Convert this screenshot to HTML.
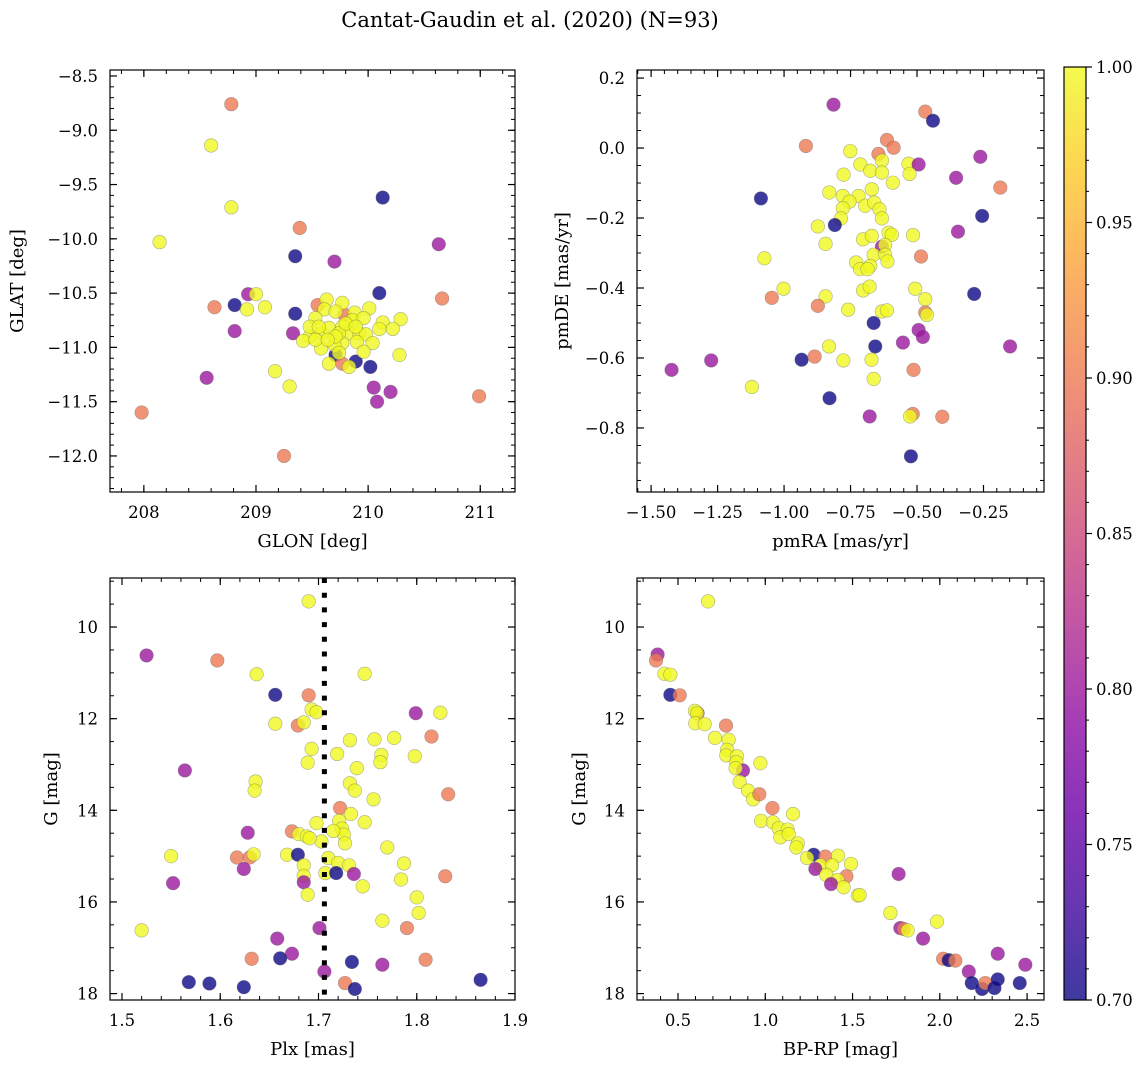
<!DOCTYPE html>
<html><head><meta charset="utf-8">
<style>
body{margin:0;background:#fff;}
svg{display:block;font-family:"DejaVu Serif","Liberation Serif",serif;}
</style></head>
<body>
<svg id="fig" width="1148" height="1067" viewBox="0 0 1148 1067" xmlns="http://www.w3.org/2000/svg">
<defs>
<linearGradient id="plasma" x1="0" y1="1" x2="0" y2="0">
<stop offset="0" stop-color="#0d0887"/><stop offset="0.1" stop-color="#41049d"/><stop offset="0.2" stop-color="#6a00a8"/><stop offset="0.3" stop-color="#8f0da4"/><stop offset="0.4" stop-color="#b12a90"/><stop offset="0.5" stop-color="#cc4778"/><stop offset="0.6" stop-color="#e16462"/><stop offset="0.7" stop-color="#f2844b"/><stop offset="0.8" stop-color="#fca636"/><stop offset="0.9" stop-color="#fcce25"/><stop offset="1" stop-color="#f0f921"/>
</linearGradient>
</defs>
<text x="530" y="27" font-size="21" text-anchor="middle">Cantat-Gaudin et al. (2020) (N=93)</text>
</svg>
<script>
// ---- Panel 1: GLON vs GLAT ----
const glon=[208.78,208.60,208.78,208.14,209.39,210.13,210.63,209.35,209.70,208.93,209.00,210.10,210.66,208.63,208.81,208.92,209.08,209.35,208.81,209.33,209.17,209.30,208.56,207.98,209.25,210.05,210.20,210.08,210.99,209.89,210.02,209.71,210.28,209.55,209.79,209.77,
209.63,209.77,210.01,209.88,209.61,209.71,209.53,209.86,209.96,210.13,210.29,210.22,210.10,209.48,209.42,209.59,209.65,209.77,209.83,209.92,209.98,210.04,209.90,209.77,209.70,209.58,209.74,209.65,209.83,209.96,209.48,209.56,209.74,209.80,209.89,209.71,209.53,209.64];
const glat=[-8.76,-9.14,-9.71,-10.03,-9.90,-9.62,-10.05,-10.16,-10.21,-10.51,-10.51,-10.50,-10.55,-10.63,-10.61,-10.65,-10.63,-10.69,-10.85,-10.87,-11.22,-11.36,-11.28,-11.60,-12.00,-11.37,-11.41,-11.50,-11.45,-11.13,-11.18,-11.07,-11.07,-10.61,-10.70,-11.15,
-10.56,-10.59,-10.64,-10.68,-10.65,-10.67,-10.73,-10.75,-10.73,-10.77,-10.74,-10.83,-10.83,-10.90,-10.94,-10.87,-10.82,-10.81,-10.87,-10.87,-10.88,-10.96,-10.95,-10.96,-10.98,-11.01,-11.05,-11.15,-11.18,-11.04,-10.81,-10.81,-10.87,-10.78,-10.81,-10.90,-10.93,-10.93];
const probA=[0.9,1,1,1,0.9,0.7,0.8,0.7,0.8,0.8,1,0.7,0.9,0.9,0.7,1,1,0.7,0.8,0.8,1,1,0.8,0.9,0.9,0.8,0.8,0.8,0.9,0.7,0.7,0.7,1,0.9,0.9,0.9,
1,1,1,1,1,1,1,1,1,1,1,1,1,1,1,1,1,1,1,1,1,1,1,1,1,1,1,1,1,1,1,1,1,1,1,1,1,1];
const p1XTicks=[208,209,210,211];
const p1YTicks=[-8.5,-9.0,-9.5,-10.0,-10.5,-11.0,-11.5,-12.0];
// ---- Panel 2: pmRA vs pmDE ----
const pmra=[-0.814,-0.469,-0.440,-0.918,-0.613,-0.588,-0.645,-0.751,-0.632,-0.532,-0.494,-0.713,-0.676,-0.632,-0.528,-0.776,-0.591,-0.262,-0.353,-0.187,-1.087,-0.830,-0.670,-0.779,-0.720,-0.754,-0.695,-0.661,-0.779,-0.641,-0.632,-0.786,-0.255,-0.809,-0.873,-0.346,-0.703,-0.670,-0.607,-0.595,-0.515,-0.632,-0.620,-0.844,-0.663,-0.620,-0.611,-0.485,-1.074,-0.729,-0.714,-0.676,-0.686,-0.703,-0.678,-1.002,-1.046,-0.844,-0.873,-0.507,-0.469,-0.285,-0.759,-0.632,-0.613,-0.469,-0.463,-0.663,-0.494,-0.478,-0.553,-0.150,-0.831,-0.657,-0.934,-0.885,-0.777,-0.671,-1.274,-1.423,-0.513,-1.121,-0.663,-0.829,-0.678,-0.516,-0.526,-0.405,-0.523];
const pmde=[0.124,0.104,0.078,0.006,0.023,0.001,-0.017,-0.009,-0.036,-0.045,-0.047,-0.047,-0.065,-0.070,-0.074,-0.076,-0.099,-0.025,-0.085,-0.113,-0.144,-0.127,-0.118,-0.137,-0.137,-0.153,-0.165,-0.156,-0.172,-0.175,-0.201,-0.201,-0.194,-0.220,-0.224,-0.239,-0.261,-0.251,-0.242,-0.248,-0.249,-0.282,-0.277,-0.274,-0.305,-0.305,-0.324,-0.310,-0.315,-0.327,-0.346,-0.337,-0.346,-0.407,-0.396,-0.402,-0.428,-0.424,-0.451,-0.402,-0.432,-0.417,-0.462,-0.467,-0.464,-0.470,-0.477,-0.500,-0.520,-0.540,-0.556,-0.567,-0.567,-0.567,-0.605,-0.596,-0.607,-0.605,-0.607,-0.634,-0.634,-0.683,-0.660,-0.715,-0.767,-0.760,-0.767,-0.768,-0.881];
const probB=[0.8,0.9,0.7,0.9,0.9,0.9,0.9,1,1,1,0.8,1,1,1,1,1,1,0.8,0.8,0.9,0.7,1,1,1,1,1,1,1,1,1,1,1,0.7,0.7,1,0.8,1,1,1,1,1,0.8,1,1,1,1,1,0.9,1,1,1,1,1,1,1,1,0.9,1,0.9,1,1,0.7,1,1,1,0.9,1,0.7,0.8,0.8,0.8,0.8,1,0.7,0.7,0.9,1,1,0.8,0.8,0.9,1,1,0.7,0.8,0.9,1,0.9,0.7];
const p2XTicks=[-1.50,-1.25,-1.00,-0.75,-0.50,-0.25];
const p2YTicks=[0.2,0.0,-0.2,-0.4,-0.6,-0.8];
// ---- Panel 3: Plx vs G ----
const plx=[1.690,1.525,1.597,1.637,1.747,1.656,1.690,1.693,1.698,1.799,1.824,1.656,1.679,1.685,1.815,1.732,1.757,1.777,1.693,1.719,1.764,1.763,1.798,1.689,1.739,1.564,1.636,1.635,1.732,1.737,1.832,1.756,1.722,1.733,1.747,1.698,1.721,1.724,1.726,1.727,1.715,1.703,1.673,1.680,1.688,1.691,1.628,1.770,1.550,1.617,1.630,1.634,1.668,1.679,1.710,1.685,1.720,1.731,1.787,1.624,1.685,1.707,1.718,1.736,1.685,1.552,1.784,1.745,1.829,1.689,1.800,1.802,1.520,1.765,1.790,1.701,1.658,1.673,1.661,1.632,1.734,1.765,1.809,1.706,1.568,1.589,1.624,1.727,1.737,1.865];
const gmagC=[9.44,10.62,10.73,11.03,11.02,11.48,11.49,11.80,11.86,11.88,11.87,12.11,12.15,12.08,12.39,12.47,12.45,12.42,12.66,12.77,12.79,12.95,12.82,12.96,13.08,13.13,13.37,13.57,13.41,13.57,13.65,13.76,13.95,14.08,14.26,14.28,14.23,14.40,14.53,14.72,14.45,14.68,14.46,14.52,14.57,14.61,14.49,14.81,15.00,15.03,15.03,14.96,14.97,14.97,15.04,15.20,15.15,15.20,15.16,15.28,15.43,15.37,15.37,15.39,15.57,15.59,15.51,15.66,15.44,15.84,15.90,16.24,16.62,16.41,16.57,16.57,16.80,17.13,17.23,17.24,17.31,17.37,17.26,17.52,17.75,17.78,17.86,17.77,17.90,17.70];
const probC=[1,0.8,0.9,1,1,0.7,0.9,1,1,0.8,1,1,0.9,1,0.9,1,1,1,1,1,1,1,1,1,1,0.8,1,1,1,1,0.9,1,0.9,1,1,1,1,1,1,1,1,1,0.9,1,1,1,0.8,1,1,0.9,0.9,1,1,0.7,1,1,1,1,1,0.8,1,1,0.7,0.8,0.8,0.8,1,1,0.9,1,1,1,1,1,0.9,0.8,0.8,0.8,0.7,0.9,0.7,0.8,0.9,0.8,0.7,0.7,0.7,0.9,0.7,0.7];
const p3XTicks=[1.5,1.6,1.7,1.8,1.9];
const gTicks=[10,12,14,16,18];
const plxCut=1.706;
// ---- Panel 4: BP-RP vs G ----
const bprp=[0.672,0.383,0.374,0.422,0.456,0.456,0.510,0.612,0.597,0.609,0.599,0.653,0.775,0.712,0.790,0.781,0.777,0.838,0.834,0.872,0.830,0.972,0.853,0.901,0.930,0.966,1.041,1.159,0.976,1.044,1.077,1.128,1.086,1.134,1.186,1.178,1.277,1.239,1.344,1.417,1.491,1.316,1.382,1.287,1.350,1.465,1.415,1.377,1.449,1.530,1.541,1.764,1.717,1.984,1.774,1.793,1.816,1.904,2.019,2.051,2.089,2.332,2.490,2.166,2.183,2.242,2.261,2.313,2.332,2.458];
const gmagD=[9.44,10.60,10.73,11.02,11.04,11.48,11.49,11.88,11.83,11.88,12.10,12.12,12.15,12.42,12.46,12.68,12.80,12.82,12.95,13.13,13.08,12.97,13.38,13.57,13.76,13.65,13.95,14.08,14.23,14.26,14.39,14.42,14.59,14.52,14.72,14.81,14.97,15.04,15.01,14.99,15.17,15.20,15.20,15.28,15.41,15.44,15.52,15.61,15.68,15.86,15.85,15.39,16.24,16.43,16.57,16.59,16.62,16.80,17.24,17.27,17.28,17.13,17.37,17.52,17.77,17.90,17.77,17.88,17.69,17.77];
const probD=[1,0.8,0.9,1,1,0.7,0.9,0.8,1,1,1,1,0.9,1,1,1,1,1,1,0.8,1,1,1,1,1,0.9,0.9,1,1,1,1,1,1,1,1,1,0.7,1,0.9,1,1,1,1,0.8,1,0.9,1,0.8,1,1,1,0.8,1,1,0.8,0.9,1,0.8,0.9,0.7,0.9,0.8,0.8,0.8,0.7,0.7,0.9,0.7,0.7,0.7];
const p4XTicks=[0.5,1.0,1.5,2.0,2.5];
// ---- Colorbar ----
const cbarTicks=[0.70,0.75,0.80,0.85,0.90,0.95,1.00];
const cbarMin=0.70, cbarMax=1.00;

const NS='http://www.w3.org/2000/svg';
const svg=document.getElementById('fig');
const plasma=[[13,8,135],[65,4,157],[106,0,168],[143,13,164],[177,42,144],[204,71,120],[225,100,98],[242,132,75],[252,166,54],[252,206,37],[240,249,33]];
function cmap(v){let t=(v-cbarMin)/(cbarMax-cbarMin);t=Math.max(0,Math.min(1,t))*10;const i=Math.min(9,Math.floor(t)),f=t-i;const a=plasma[i],b=plasma[i+1];return 'rgb('+a.map((c,k)=>Math.round(c+(b[k]-c)*f)).join(',')+')';}
function mk(tag,attrs,parent){const e=document.createElementNS(NS,tag);for(const k in attrs)e.setAttribute(k,attrs[k]);(parent||svg).appendChild(e);return e;}
function fmt(v,d){const s=Math.abs(v).toFixed(d);return (v<0?'\u2212':'')+s;}
function axes(o){
  const g=mk('g',{});
  
  
  const sx=v=>o.x0+(v-o.xmin)/(o.xmax-o.xmin)*(o.x1-o.x0);
  const sy=v=>o.yinv? o.y0+(v-o.ymin)/(o.ymax-o.ymin)*(o.y1-o.y0) : o.y1-(v-o.ymin)/(o.ymax-o.ymin)*(o.y1-o.y0);
  for(let v=Math.ceil(o.xmin/o.xminor)*o.xminor;v<=o.xmax;v+=o.xminor){const x=sx(v);mk('line',{x1:x,x2:x,y1:o.y1,y2:o.y1-4,stroke:'#000','stroke-width':1},g);mk('line',{x1:x,x2:x,y1:o.y0,y2:o.y0+4,stroke:'#000','stroke-width':1},g);}
  for(let v=Math.ceil(o.ymin/o.yminor)*o.yminor;v<=o.ymax;v+=o.yminor){const y=sy(v);mk('line',{x1:o.x0,x2:o.x0+4,y1:y,y2:y,stroke:'#000','stroke-width':1},g);mk('line',{x1:o.x1,x2:o.x1-4,y1:y,y2:y,stroke:'#000','stroke-width':1},g);}
  o.xt.forEach(v=>{const x=sx(v);mk('line',{x1:x,x2:x,y1:o.y1,y2:o.y1-7,stroke:'#000','stroke-width':1.2},g);mk('line',{x1:x,x2:x,y1:o.y0,y2:o.y0+7,stroke:'#000','stroke-width':1.2},g);
    const t=mk('text',{x:x,y:o.y1+26,'font-size':16.5,'text-anchor':'middle'},g);t.textContent=fmt(v,o.xd);
    
    });
  o.yt.forEach(v=>{const y=sy(v);mk('line',{x1:o.x0,x2:o.x0+7,y1:y,y2:y,stroke:'#000','stroke-width':1.2},g);mk('line',{x1:o.x1,x2:o.x1-7,y1:y,y2:y,stroke:'#000','stroke-width':1.2},g);
    const t=mk('text',{x:o.x0-12,y:y+6,'font-size':16.5,'text-anchor':'end'},g);t.textContent=fmt(v,o.yd);
    
    });
  const xl=mk('text',{x:(o.x0+o.x1)/2,y:o.y1+55,'font-size':18,'text-anchor':'middle'},g);xl.textContent=o.xlabel;
  
  
  const cy=(o.y0+o.y1)/2;
  const yl=mk('text',{x:o.ylx,y:cy,'font-size':18,'text-anchor':'middle',transform:'rotate(-90 '+o.ylx+' '+cy+')'},g);yl.textContent=o.ylabel;
  
  
  const pg=mk('g',{},g);
  
  
  o.xs.forEach((v,i)=>{const c=mk('circle',{cx:sx(v),cy:sy(o.ys[i]),r:6.8,fill:cmap(o.ps[i]),'fill-opacity':0.8,stroke:'#666','stroke-opacity':0.5,'stroke-width':0.6},pg);
    
    });
  if(o.vline!==undefined){const x=sx(o.vline);const l=mk('line',{x1:x,x2:x,y1:o.y0,y2:o.y1,stroke:'#000','stroke-width':5,'stroke-dasharray':'5 9.7'},g);
    
    }
  const fr=mk('rect',{x:o.x0,y:o.y0,width:o.x1-o.x0,height:o.y1-o.y0,fill:'none',stroke:'#000','stroke-width':1.2},g);
  
  
}
axes({name:'panel-glon-glat',x0:110,x1:515,y0:70,y1:492,xmin:207.698,xmax:211.31,ymin:-12.332,ymax:-8.445,xminor:0.2,yminor:0.1,xt:p1XTicks,yt:p1YTicks,xd:0,yd:1,xlabel:'GLON [deg]',ylabel:'GLAT [deg]',ylx:23,xs:glon,ys:glat,ps:probA});
axes({name:'panel-pm',x0:637,x1:1044,y0:70,y1:492,xmin:-1.553,xmax:-0.0225,ymin:-0.983,ymax:0.223,xminor:0.05,yminor:0.05,xt:p2XTicks,yt:p2YTicks,xd:2,yd:1,xlabel:'pmRA [mas/yr]',ylabel:'pmDE [mas/yr]',ylx:568,xs:pmra,ys:pmde,ps:probB});
axes({name:'panel-plx-g',x0:110,x1:515,y0:578,y1:1000,xmin:1.4878,xmax:1.9,ymin:8.93,ymax:18.14,yinv:true,xminor:0.02,yminor:0.5,xt:p3XTicks,yt:gTicks,xd:1,yd:0,xlabel:'Plx [mas]',ylabel:'G [mag]',ylx:57,xs:plx,ys:gmagC,ps:probC,vline:plxCut});
axes({name:'panel-cmd',x0:637,x1:1044,y0:578,y1:1000,xmin:0.265,xmax:2.597,ymin:8.93,ymax:18.14,yinv:true,xminor:0.1,yminor:0.5,xt:p4XTicks,yt:gTicks,xd:1,yd:0,xlabel:'BP-RP [mag]',ylabel:'G [mag]',ylx:585,xs:bprp,ys:gmagD,ps:probD});
(function(){
  const g=mk('g',{});
  
  
  const x0=1064,x1=1086,y0=67,y1=1000;
  mk('rect',{x:x0,y:y0,width:x1-x0,height:y1-y0,fill:'url(#plasma)','fill-opacity':0.8},g);
  mk('rect',{x:x0,y:y0,width:x1-x0,height:y1-y0,fill:'none',stroke:'#000','stroke-width':1.2},g);
  const sy=v=>y1-(v-cbarMin)/(cbarMax-cbarMin)*(y1-y0);
  for(let k=0;k<=30;k++){const v=cbarMin+k*0.01;const y=sy(v);mk('line',{x1:x1,x2:x1+3,y1:y,y2:y,stroke:'#000','stroke-width':1},g);}
  cbarTicks.forEach(v=>{const y=sy(v);mk('line',{x1:x1,x2:x1+6,y1:y,y2:y,stroke:'#000','stroke-width':1.2},g);
    const t=mk('text',{x:x1+10,y:y+6,'font-size':16.5},g);t.textContent=v.toFixed(2);
    
    });
})();
</script>
</body></html>
